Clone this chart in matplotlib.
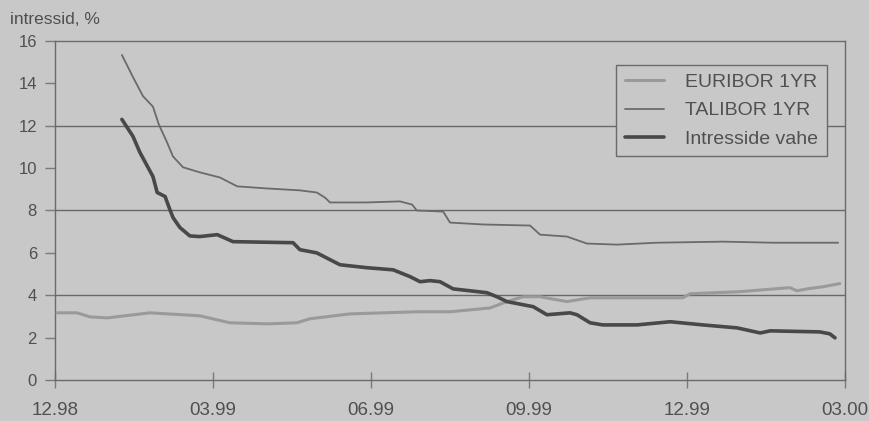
import numpy as np
import matplotlib.pyplot as plt

plt.rcParams['font.family'] = ['Liberation Sans Narrow', 'Liberation Sans', 'DejaVu Sans']

bg = '#c8c8c8'
ink = '#505050'

# months counted from Dec 1998
quarter_ticks = [0, 3, 6, 9, 12, 15]
quarter_labels = ['12.98', '03.99', '06.99', '09.99', '12.99', '03.00']

euribor_m = [0.04, 0.42, 0.66, 0.99, 1.80, 2.75, 3.32, 4.03, 4.59, 4.84, 5.60, 6.87, 7.50,
             8.26, 8.58, 8.89, 9.21, 9.72, 10.16, 11.11, 11.92, 12.06, 13.01, 13.95, 14.09,
             14.28, 14.58, 14.90]
euribor = [3.17, 3.17, 2.98, 2.93, 3.17, 3.03, 2.70, 2.65, 2.70, 2.89, 3.12, 3.22, 3.22,
           3.40, 3.70, 3.93, 3.93, 3.70, 3.88, 3.88, 3.88, 4.07, 4.17, 4.36, 4.21,
           4.30, 4.40, 4.55]

talibor_m = [1.27, 1.48, 1.67, 1.86, 1.97, 2.13, 2.24, 2.43, 2.75, 3.13, 3.46, 4.03, 4.65,
             4.97, 5.13, 5.22, 5.92, 6.55, 6.78, 6.87, 7.37, 7.50, 8.13, 9.02, 9.21, 9.72,
             10.10, 10.67, 11.43, 12.68, 13.63, 14.87]
talibor = [15.34, 14.30, 13.40, 12.90, 12.07, 11.20, 10.55, 10.04, 9.80, 9.56, 9.14, 9.04, 8.95,
           8.85, 8.60, 8.38, 8.38, 8.43, 8.28, 8.00, 7.95, 7.43, 7.34, 7.29, 6.86, 6.77,
           6.44, 6.39, 6.48, 6.53, 6.48, 6.48]

vahe_m = [1.27, 1.48, 1.61, 1.86, 1.94, 2.09, 2.18, 2.24, 2.37, 2.56, 2.75, 3.08, 3.38, 4.52,
          4.65, 4.97, 5.41, 5.92, 6.42, 6.74, 6.93, 7.12, 7.31, 7.56, 8.20, 8.39, 8.58, 9.08,
          9.34, 9.78, 9.91, 10.16, 10.40, 11.05, 11.68, 12.30, 12.95, 13.39, 13.58, 14.52,
          14.71, 14.81]
vahe = [12.30, 11.50, 10.75, 9.60, 8.85, 8.66, 8.05, 7.67, 7.20, 6.80, 6.77, 6.86, 6.53, 6.48,
        6.15, 6.00, 5.44, 5.30, 5.20, 4.88, 4.64, 4.69, 4.64, 4.30, 4.12, 3.93, 3.70, 3.46,
        3.08, 3.17, 3.08, 2.70, 2.60, 2.60, 2.75, 2.60, 2.46, 2.22, 2.32, 2.27,
        2.18, 1.99]

fig = plt.figure(figsize=(8.69, 4.21), dpi=100, facecolor=bg)
ax = fig.add_axes([0.0633, 0.0974, 0.9091, 0.8052], facecolor=bg)

for y in (4, 8, 12):
    ax.axhline(y, color='#686868', lw=1.0, zorder=1)

line_kw = dict(solid_joinstyle='round', solid_capstyle='round')
ax.plot(euribor_m, euribor, color='#9a9a9a', lw=2.2, label='EURIBOR 1YR', zorder=3, **line_kw)
ax.plot(talibor_m, talibor, color='#6a6a6a', lw=1.3, label='TALIBOR 1YR', zorder=3, **line_kw)
ax.plot(vahe_m, vahe, color='#484848', lw=2.6, label='Intresside vahe', zorder=4, **line_kw)

ax.set_xlim(0, 15)
ax.set_ylim(0, 16)
ax.set_xticks(quarter_ticks)
ax.set_xticklabels(quarter_labels)
ax.set_yticks(np.arange(0, 17, 2))

for s in ax.spines.values():
    s.set_color('#6a6a6a')
    s.set_linewidth(1.0)

ax.tick_params(axis='x', direction='inout', length=12, width=1, color='#7a7a7a',
               labelsize=13.5, labelcolor=ink, pad=10)
ax.tick_params(axis='y', direction='out', length=7, width=1, color='#7a7a7a',
               labelsize=12, labelcolor=ink, pad=6)

fig.text(0.012, 0.935, 'intressid, %', fontsize=12.5, color=ink, ha='left', va='bottom')

leg = ax.legend(loc='upper right', bbox_to_anchor=(0.977, 0.93), fontsize=14,
                frameon=True, fancybox=False, framealpha=1, facecolor=bg,
                edgecolor='#6a6a6a', handlelength=2.0, handletextpad=1.1,
                borderpad=0.45, labelspacing=0.55, borderaxespad=0)
leg.get_frame().set_linewidth(1.0)
for t in leg.get_texts():
    t.set_color(ink)

fig.savefig('out.png', dpi=100, facecolor=bg)
